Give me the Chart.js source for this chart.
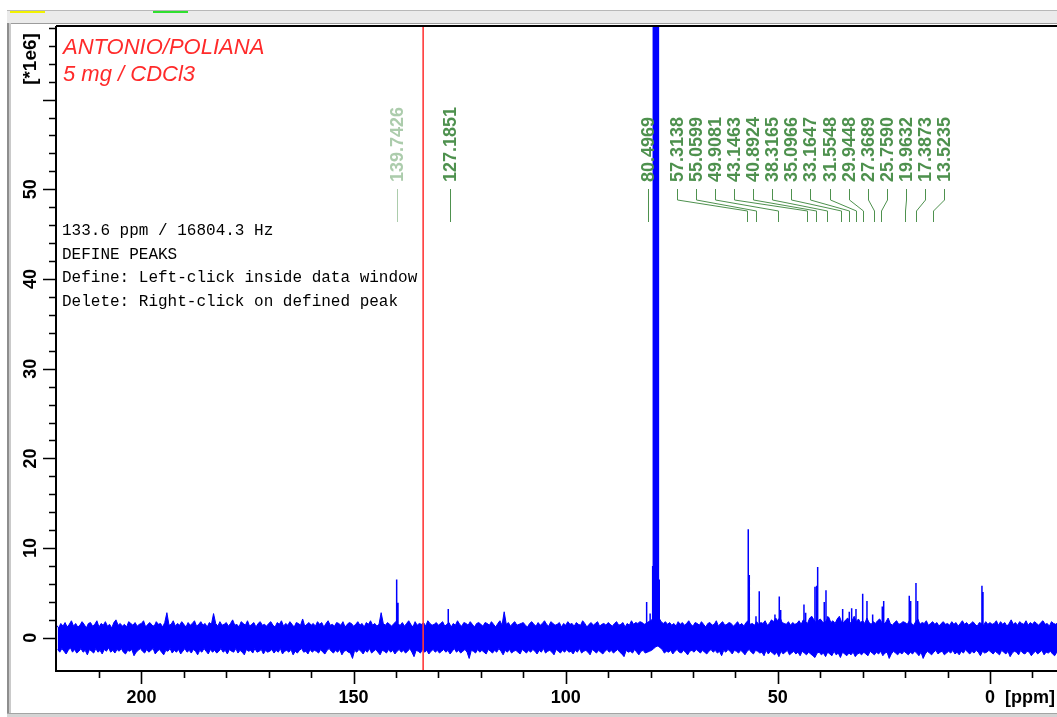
<!DOCTYPE html>
<html>
<head>
<meta charset="utf-8">
<script src="https://cdn.jsdelivr.net/npm/chart.js@4.4.1/dist/chart.umd.min.js"></script>
<style>
  html, body { margin: 0; padding: 0; background: #fff; }
  #wrap { width: 1057px; height: 717px; }
</style>
</head>
<body>
<div id="wrap"><canvas id="spectrum" width="1057" height="717"></canvas></div>
<script>
// 13C spectrum, intensities in units of 1e6
const noiseStart = 220;   // ppm of first noise bin
const noiseStep = 0.5;    // ppm per bin
// upper / lower edge of the baseline noise, one value per bin
const noiseHi = [
  1.4,1.1,1.6,1.3,1.7,1.2,1.5,1.9,1.3,1.6,1.2,1.4,1.8,1.5,1.1,1.6,1.7,1.3,1.5,1.9,
  1.2,1.6,1.4,1.8,1.3,1.5,1.1,1.7,2.0,1.4,1.6,1.3,1.5,1.2,1.8,1.6,1.4,1.7,1.3,1.5,
  1.6,1.9,1.2,1.5,1.7,1.4,1.3,1.8,1.5,1.6,1.2,1.7,2.8,1.4,1.5,1.9,1.3,1.6,1.4,1.8,
  1.5,1.2,1.7,1.4,1.6,1.9,1.3,1.5,1.8,1.4,1.6,1.2,1.7,1.5,2.7,1.6,1.3,1.8,1.4,1.5,
  1.7,1.3,1.6,2.0,1.4,1.5,1.2,1.8,1.6,1.4,1.9,1.3,1.5,1.7,1.2,1.6,1.8,1.4,1.5,1.3,
  1.6,1.8,1.4,1.2,1.7,1.5,1.9,1.3,1.6,1.4,1.8,1.5,1.2,1.7,1.6,1.4,2.1,1.3,1.5,1.7,
  1.4,1.6,1.3,1.8,1.5,1.7,1.2,1.6,1.9,1.4,1.5,1.3,1.7,1.6,1.4,1.8,1.2,1.5,1.7,1.6,
  1.3,1.5,1.8,1.4,1.6,1.2,1.7,1.5,1.9,1.4,1.6,1.3,1.5,2.8,1.6,1.4,1.7,1.5,1.3,1.6,
  1.8,1.5,1.4,1.7,1.3,1.6,1.9,1.5,1.2,1.8,1.4,1.6,1.5,1.7,1.3,1.9,1.6,1.4,1.5,1.7,
  1.4,1.6,1.8,1.3,1.5,1.7,1.2,1.6,1.4,1.9,1.5,1.3,1.7,1.6,1.4,1.8,1.5,1.2,1.6,1.7,
  1.5,1.3,1.7,1.6,1.4,1.8,1.5,1.2,1.6,1.9,1.4,2.9,1.5,1.7,1.3,1.6,1.8,1.4,1.5,1.6,
  1.7,1.4,1.2,1.6,1.8,1.5,1.3,1.7,1.4,1.6,1.9,1.5,1.3,1.8,1.6,1.4,1.5,1.7,1.2,1.6,
  1.4,1.8,1.5,1.6,1.3,1.7,1.5,1.4,1.9,1.6,1.2,1.5,1.7,1.4,1.6,1.8,1.3,1.5,1.6,1.4,
  1.7,1.5,1.3,1.6,1.8,1.4,1.5,1.7,1.2,1.6,1.4,1.9,1.5,1.7,1.6,1.8,1.7,1.5,1.6,1.8,
  1.9,2.1,1.7,2.0,2.2,1.8,1.6,1.8,1.5,1.7,1.4,1.6,1.3,1.8,1.5,1.7,1.4,1.6,1.9,1.5,
  1.3,1.7,1.6,1.4,1.8,1.5,1.2,1.6,1.7,1.4,1.5,1.9,1.3,1.6,1.8,1.4,1.5,1.7,1.6,1.3,
  1.5,1.8,1.4,1.6,1.3,1.7,1.9,1.5,1.6,1.4,1.8,1.5,1.7,1.6,1.9,1.4,1.6,2.0,1.8,2.2,
  1.9,2.3,1.7,1.6,1.5,1.8,1.4,1.7,1.5,1.6,1.9,1.5,2.0,1.8,1.6,2.2,2.4,2.0,1.7,1.9,
  2.1,1.8,1.6,2.0,2.3,1.7,1.9,1.6,2.1,2.4,1.8,1.7,2.0,2.2,1.6,1.9,2.4,1.8,2.1,1.7,
  1.9,1.6,2.2,1.7,1.5,1.8,1.6,1.9,2.1,1.7,1.5,1.8,2.2,1.6,1.4,1.7,1.9,1.5,1.6,1.8,
  1.7,1.5,1.9,1.6,1.4,1.8,2.1,1.5,1.7,1.6,1.9,1.4,1.6,1.8,1.5,1.7,1.3,1.6,1.8,1.5,
  1.6,1.4,1.8,1.5,1.7,1.3,1.6,1.9,1.5,1.7,1.4,1.6,1.8,1.5,1.3,1.7,1.6,1.4,1.8,1.5,
  1.7,1.5,1.6,1.9,1.4,1.8,1.5,1.7,1.3,1.6,2.0,1.5,1.7,1.4,1.8,1.6,1.5,1.9,1.4,1.7,
  1.5,1.8,1.6,1.4,1.7,1.9,1.5,1.6,1.3,1.8,1.6,1.5,1.7,1.4,1.9,1.6,1.5,1.7,1.8,1.6
];
const noiseLo = [
  -1.3,-1.6,-1.2,-1.5,-1.8,-1.4,-1.1,-1.6,-1.3,-1.7,-1.5,-1.2,-1.6,-1.4,-1.9,-1.3,-1.5,-1.7,-1.2,-1.6,
  -1.4,-1.8,-1.3,-1.5,-1.1,-1.6,-1.4,-1.7,-1.3,-1.5,-1.2,-1.6,-1.8,-1.4,-1.5,-1.3,-2.0,-1.6,-1.4,-1.2,
  -1.5,-1.7,-1.3,-1.6,-1.4,-1.2,-1.8,-1.5,-1.3,-1.6,-1.9,-1.4,-1.5,-1.2,-1.7,-1.4,-1.6,-1.3,-1.8,-1.5,
  -1.2,-1.6,-1.4,-1.7,-1.3,-1.5,-1.9,-1.4,-1.6,-1.2,-1.5,-1.8,-1.3,-1.6,-1.4,-1.7,-1.5,-1.2,-1.6,-1.4,
  -1.8,-1.3,-1.5,-1.6,-1.2,-1.7,-1.4,-1.6,-1.9,-1.3,-1.5,-1.4,-1.7,-1.2,-1.6,-1.5,-1.3,-1.8,-1.4,-1.6,
  -1.5,-1.3,-1.7,-1.4,-1.6,-1.2,-1.8,-1.5,-1.4,-1.6,-1.3,-1.9,-1.5,-1.7,-1.4,-1.2,-1.6,-1.5,-1.8,-1.3,
  -1.6,-1.4,-1.5,-1.7,-1.3,-1.6,-1.8,-1.4,-1.2,-1.5,-1.7,-1.4,-1.6,-1.3,-1.9,-1.5,-1.4,-1.6,-1.7,-2.3,
  -1.4,-1.6,-1.3,-1.5,-1.8,-1.4,-1.6,-1.2,-1.7,-1.5,-1.3,-1.6,-1.9,-1.4,-1.5,-1.7,-1.3,-1.6,-1.4,-1.8,
  -1.5,-1.3,-1.6,-1.4,-1.7,-1.5,-1.2,-1.6,-2.1,-1.4,-1.5,-1.7,-1.3,-1.6,-1.4,-1.8,-1.5,-1.3,-1.6,-1.4,
  -1.7,-1.5,-1.3,-1.6,-1.4,-1.8,-1.5,-1.2,-1.6,-1.4,-1.7,-1.5,-1.3,-1.6,-2.3,-1.4,-1.5,-1.7,-1.3,-1.6,
  -1.4,-1.6,-1.8,-1.3,-1.5,-1.7,-1.4,-1.6,-1.2,-1.5,-1.9,-1.4,-1.6,-1.3,-1.7,-1.5,-1.4,-1.6,-1.8,-1.3,
  -1.5,-1.7,-1.4,-1.6,-1.3,-1.5,-1.8,-1.4,-1.6,-1.2,-1.7,-1.5,-1.4,-1.6,-1.9,-1.3,-1.5,-1.7,-1.4,-1.6,
  -1.3,-1.6,-1.5,-1.8,-1.4,-1.6,-1.2,-1.7,-1.5,-1.4,-1.6,-1.9,-1.3,-1.5,-1.7,-1.4,-1.6,-1.8,-1.5,-1.3,
  -1.6,-1.4,-1.7,-1.5,-1.3,-1.6,-1.8,-2.1,-1.4,-1.6,-1.5,-1.7,-1.3,-1.6,-1.9,-1.5,-1.4,-1.7,-1.6,-1.5,
  -1.4,-1.2,-1.0,-0.9,-1.1,-1.3,-1.7,-1.5,-1.6,-1.4,-1.8,-1.5,-1.3,-1.6,-1.7,-1.4,-1.6,-1.9,-1.5,-1.4,
  -1.6,-1.3,-1.5,-1.7,-1.4,-1.6,-1.8,-1.5,-1.3,-1.6,-1.4,-1.7,-1.5,-2.0,-1.4,-1.6,-1.3,-1.5,-1.8,-1.4,
  -1.5,-1.7,-1.4,-1.6,-1.9,-1.5,-1.3,-1.6,-1.8,-1.4,-1.5,-1.7,-1.6,-2.0,-1.4,-1.8,-1.5,-1.7,-1.9,-1.6,
  -2.1,-1.5,-1.8,-1.6,-1.4,-1.9,-1.7,-1.5,-1.8,-1.6,-2.0,-1.5,-1.7,-1.9,-1.6,-1.8,-2.0,-2.2,-1.7,-1.6,
  -1.9,-1.7,-2.1,-1.6,-1.8,-2.0,-1.5,-1.9,-1.7,-2.2,-1.6,-1.8,-2.0,-1.7,-1.9,-1.6,-2.1,-1.8,-1.7,-1.9,
  -1.6,-1.8,-2.0,-1.5,-1.7,-1.9,-1.6,-1.8,-1.5,-2.0,-1.7,-1.6,-2.3,-1.8,-1.5,-1.7,-1.9,-1.6,-1.8,-1.5,
  -1.7,-1.9,-1.6,-1.8,-1.5,-1.7,-2.0,-1.6,-2.3,-1.8,-1.5,-1.7,-1.9,-1.6,-1.4,-1.8,-1.6,-1.5,-1.9,-1.7,
  -1.5,-1.7,-1.4,-1.8,-1.6,-1.9,-1.5,-1.7,-1.3,-1.6,-1.8,-1.5,-1.7,-1.4,-1.6,-2.0,-1.5,-1.7,-1.6,-1.4,
  -1.6,-1.8,-1.5,-1.7,-1.9,-1.4,-1.6,-1.8,-1.5,-2.1,-1.7,-1.5,-1.6,-1.9,-1.4,-1.7,-1.8,-1.5,-1.6,-2.0,
  -1.7,-1.5,-1.8,-1.6,-1.4,-1.9,-1.6,-1.7,-1.5,-1.8,-2.0,-1.6,-1.4,-1.7,-1.9,-1.5,-1.6,-1.8,-1.7,-1.5
];

// resolved lines standing out of the noise
const peakPpm = [139.84, 139.53, 127.68, 80.92, 80.1, 79.5, 77.95,
  56.97, 56.73, 55.15, 54.38, 50.68, 49.66, 49.33, 43.84, 43.44,
  41.25, 40.85, 40.61, 39.06, 38.65, 38.25, 34.72, 33.16, 32.60,
  31.58, 30.00, 28.99, 27.65, 25.38, 25.05, 19.02, 18.69, 17.44,
  17.04, 1.89, 1.65];
const peakHeight = [6.5, 3.9, 3.2, 4.0, 2.7, 8.0, 6.5,
  12.1, 7.0, 2.4, 5.2, 2.6, 4.6, 3.1, 3.7, 2.8,
  5.7, 5.8, 7.9, 4.0, 5.3, 2.4, 3.2, 2.9, 3.3,
  3.2, 4.9, 4.1, 2.6, 3.5, 4.1, 4.7, 4.1, 6.1,
  4.1, 5.8, 5.1];

// CDCl3 solvent lines (off scale)
const solventPpm = [79.35, 79.2, 79.05, 78.9, 78.75, 78.6, 78.45, 78.3, 78.15];
const solventHeight = [300, 280, 320, 300, 310, 290, 320, 300, 280];

// picked peaks
const labelPpm = [139.7426, 127.1851, 80.4969, 57.3138, 55.0599, 49.9081, 43.1463,
  40.8924, 38.3165, 35.0966, 33.1647, 31.5548, 29.9448, 27.3689, 25.7590,
  19.9632, 17.3873, 13.5235];

const cursorPpm = 133.6;

const xTickValues = [200, 150, 100, 50, 0];
const xTickLabels = ['200', '150', '100', '50', '0'];
const yTickValues = [0, 10, 20, 30, 40, 50];
const yTickLabels = ['0', '10', '20', '30', '40', '50'];

const infoLines = ['133.6 ppm / 16804.3 Hz', 'DEFINE PEAKS',
  'Define: Left-click inside data window', 'Delete: Right-click on defined peak'];

const X_MIN = -15.8, X_MAX = 219.9, Y_MIN = -3.7, Y_MAX = 68.2;

// noise band: upper edge and lower edge, lower edge sits half a bin over
const upperPoints = noiseHi.map((v, i) => ({ x: noiseStart - i * noiseStep, y: v }));
const lowerPoints = noiseLo.map((v, i) => ({ x: noiseStart - i * noiseStep - noiseStep / 2, y: v }));

function sticks(ppm, heights) {
  const pts = [];
  ppm.forEach((p, i) => {
    pts.push({ x: p, y: 0 }, { x: p, y: heights[i] }, { x: p, y: null });
  });
  return pts;
}

const FONT = '"Liberation Sans", Arial, sans-serif';
const GREEN = 'rgb(78,145,78)';
const PALE = 'rgb(172,204,172)';
const BLUE = '#0000ff';

const spectrumDecor = {
  id: 'spectrumDecor',
  beforeDraw(chart) {
    const { ctx } = chart;
    ctx.save();
    ctx.fillStyle = '#fff';
    ctx.fillRect(0, 0, chart.width, chart.height);
    // window chrome
    ctx.fillStyle = '#ebebeb';
    ctx.fillRect(7, 11, 1050, 12);
    ctx.fillStyle = '#b8b8b8';
    ctx.fillRect(7, 10, 1050, 1);
    ctx.fillStyle = '#9c9c9c';
    ctx.fillRect(7, 23, 1050, 1);
    ctx.fillStyle = '#f2f200';
    ctx.fillRect(10, 11, 35, 2);
    ctx.fillStyle = '#2fe02f';
    ctx.fillRect(153, 11, 35, 2);
    ctx.fillStyle = '#8e8e8e';
    ctx.fillRect(7, 23, 2, 694);
    ctx.fillStyle = '#cacaca';
    ctx.fillRect(9, 23, 2, 694);
    ctx.fillStyle = '#d4d4d4';
    ctx.fillRect(7, 713, 1050, 4);
    ctx.fillStyle = '#a4a4a4';
    ctx.fillRect(7, 713, 1050, 1);
    ctx.restore();
  },
  afterDraw(chart) {
    const { ctx, chartArea: a, scales: { x, y } } = chart;
    ctx.save();

    // frame and axes
    ctx.strokeStyle = '#000';
    ctx.lineWidth = 2;
    ctx.beginPath();
    ctx.moveTo(a.left - 1, a.top);
    ctx.lineTo(a.right, a.top);
    ctx.moveTo(a.left - 1, a.top);
    ctx.lineTo(a.left - 1, a.bottom + 1);
    ctx.moveTo(a.left - 2, a.bottom);
    ctx.lineTo(a.right, a.bottom);
    ctx.stroke();

    ctx.lineWidth = 1.6;
    ctx.beginPath();
    for (let v = 0; v <= Y_MAX; v += 2) {
      const py = Math.round(y.getPixelForValue(v)) + 0.5;
      const len = v % 10 === 0 ? 13 : 7;
      ctx.moveTo(a.left - 1, py);
      ctx.lineTo(a.left - 1 - len, py);
    }
    for (let v = -10; v <= X_MAX; v += 10) {
      const px = Math.round(x.getPixelForValue(v)) + 0.5;
      const len = v % 50 === 0 ? 13 : 7;
      ctx.moveTo(px, a.bottom);
      ctx.lineTo(px, a.bottom + len);
    }
    ctx.stroke();

    ctx.fillStyle = '#000';
    ctx.font = 'bold 18px ' + FONT;
    ctx.textAlign = 'center';
    ctx.textBaseline = 'middle';
    xTickValues.forEach((v, i) => {
      ctx.fillText(xTickLabels[i], x.getPixelForValue(v), 698);
    });
    ctx.textAlign = 'left';
    ctx.fillText('[ppm]', x.getPixelForValue(0) + 15, 698);

    yTickValues.forEach((v, i) => {
      ctx.save();
      ctx.translate(31, y.getPixelForValue(v));
      ctx.rotate(-Math.PI / 2);
      ctx.textAlign = 'center';
      ctx.fillText(yTickLabels[i], 0, 0);
      ctx.restore();
    });
    ctx.save();
    ctx.translate(31, 59);
    ctx.rotate(-Math.PI / 2);
    ctx.textAlign = 'center';
    ctx.font = 'bold 19px ' + FONT;
    ctx.fillText('[*1e6]', 0, 0);
    ctx.restore();

    // sample title
    ctx.fillStyle = '#ff2a2a';
    ctx.font = 'italic 22px ' + FONT;
    ctx.textBaseline = 'alphabetic';
    ctx.textAlign = 'left';
    ctx.fillText('ANTONIO/POLIANA', 63, 54);
    ctx.fillText('5 mg / CDCl3', 63, 81);

    // status text
    ctx.fillStyle = '#000';
    ctx.font = '16px "Liberation Mono", "Courier New", monospace';
    infoLines.forEach((t, i) => ctx.fillText(t, 62, 235 + i * 23.5));

    // peak labels and leaders
    ctx.font = 'bold 18px ' + FONT;
    ctx.lineWidth = 1;
    const groupStart = 676.5, groupStep = 19.13;
    labelPpm.forEach((p, i) => {
      const peakX = Math.round(x.getPixelForValue(p)) + 0.5;
      const slotX = i < 3 ? peakX : Math.round(groupStart + (i - 3) * groupStep) + 0.5;
      const col = i === 0 ? PALE : GREEN;
      ctx.strokeStyle = col;
      ctx.fillStyle = col;
      ctx.beginPath();
      if (i < 3) {
        ctx.moveTo(peakX, 189);
        ctx.lineTo(peakX, 222);
      } else {
        ctx.moveTo(slotX, 189);
        ctx.lineTo(slotX, 200);
        ctx.lineTo(peakX, 211);
        ctx.lineTo(peakX, 222);
      }
      ctx.stroke();
      ctx.save();
      ctx.translate(slotX + 0.5, 182);
      ctx.rotate(-Math.PI / 2);
      ctx.textAlign = 'left';
      ctx.textBaseline = 'middle';
      ctx.fillText(p.toFixed(4), 0, 0);
      ctx.restore();
    });

    ctx.restore();
  }
};

new Chart(document.getElementById('spectrum').getContext('2d'), {
  type: 'scatter',
  data: {
    datasets: [
      {
        data: [{ x: cursorPpm, y: Y_MIN }, { x: cursorPpm, y: Y_MAX }],
        showLine: true,
        borderColor: '#ff3a3a',
        borderWidth: 1.6,
        pointRadius: 0
      },
      {
        data: upperPoints,
        showLine: true,
        borderColor: BLUE,
        borderWidth: 1,
        pointRadius: 0
      },
      {
        data: lowerPoints,
        showLine: true,
        borderColor: BLUE,
        borderWidth: 1,
        backgroundColor: BLUE,
        fill: '-1',
        pointRadius: 0
      },
      {
        data: sticks(peakPpm, peakHeight).concat(sticks(solventPpm, solventHeight)),
        showLine: true,
        spanGaps: false,
        borderColor: BLUE,
        borderWidth: 1.5,
        pointRadius: 0
      }
    ]
  },
  options: {
    responsive: false,
    animation: false,
    events: [],
    layout: { padding: { left: 57, top: 26, right: 0, bottom: 46 } },
    plugins: {
      legend: { display: false },
      tooltip: { enabled: false },
      filler: { propagate: false }
    },
    scales: {
      x: { type: 'linear', reverse: true, min: X_MIN, max: X_MAX, display: false },
      y: { type: 'linear', min: Y_MIN, max: Y_MAX, display: false }
    }
  },
  plugins: [spectrumDecor]
});
</script>
</body>
</html>
